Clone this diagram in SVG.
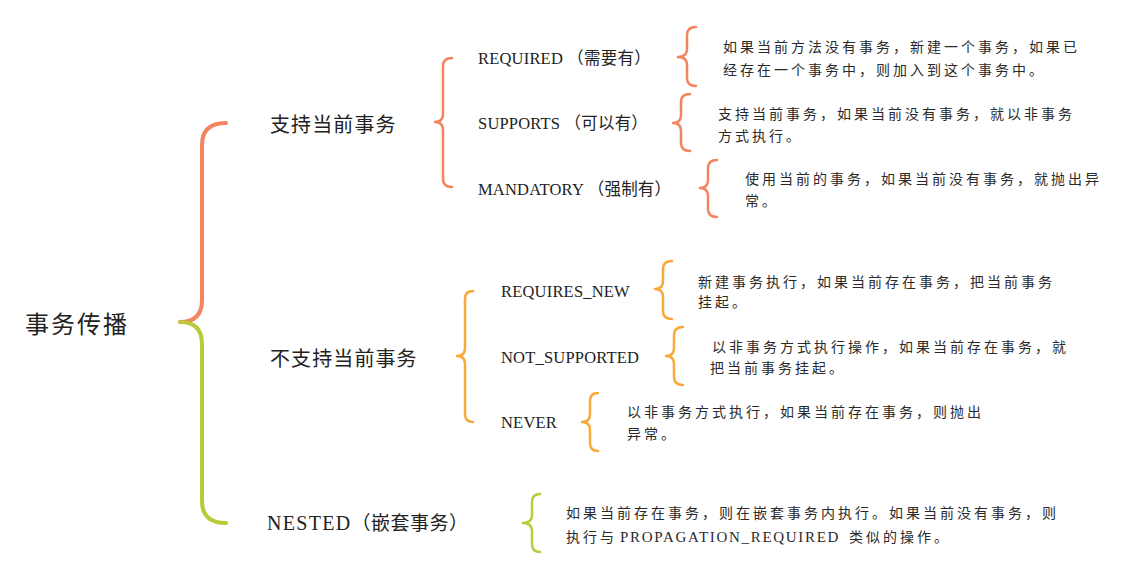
<svg xmlns="http://www.w3.org/2000/svg" width="1129" height="585" viewBox="0 0 1129 585">
<style>
  text { font-family: "Liberation Serif", "Noto Sans CJK SC", serif; fill: #222; }
  .root { font-size: 24px; letter-spacing: 2px; }
  .l1 { font-size: 20px; letter-spacing: 1.1px; }
  .l2 { font-size: 16.5px; letter-spacing: 0.2px; }
  .desc { font-size: 14px; letter-spacing: 3px; fill: #2a2a2a; }
  .br { fill: none; stroke-linecap: round; stroke-linejoin: round; }
  .or { stroke: #F4845F; }
  .am { stroke: #F9A83A; }
  .gr { stroke: #B9CA3A; }
  .w4 { stroke-width: 4; }
  .w2 { stroke-width: 2.5; }
</style>
<rect width="1129" height="585" fill="#ffffff"/>
<g id="connectors">
  <path class="br or w4" d="M226,123 Q202,123 202,145 L202,300 Q202,322 180,322"/>
  <path class="br gr w4" d="M180,322 Q202,322 202,344 L202,501 Q202,523 226,523"/>
  <path class="br or w2" d="M452,58 Q443,58 443,66 L443,114 Q443,122 435,122 Q443,122 443,130 L443,179 Q443,187 452,187"/>
  <path class="br am w2" d="M473,291 Q465,291 465,299 L465,348 Q465,356 457,356 Q465,356 465,364 L465,414 Q465,422 473,422"/>
  <path class="br or w2" d="M696,27 Q687,27 687,35 L687,49 Q687,57 678,57 Q687,57 687,65 L687,78 Q687,86 696,86"/>
  <path class="br or w2" d="M690,94 Q681,94 681,102 L681,115 Q681,123 673,123 Q681,123 681,131 L681,143 Q681,151 690,151"/>
  <path class="br or w2" d="M717,160 Q708,160 708,168 L708,180 Q708,188 700,188 Q708,188 708,196 L708,209 Q708,217 717,217"/>
  <path class="br am w2" d="M672,261 Q663,261 663,269 L663,281 Q663,289 655,289 Q663,289 663,297 L663,311 Q663,319 672,319"/>
  <path class="br am w2" d="M683,327 Q674,327 674,335 L674,348 Q674,356 666,356 Q674,356 674,364 L674,377 Q674,385 683,385"/>
  <path class="br am w2" d="M598,393 Q590,393 590,401 L590,414 Q590,422 582,422 Q590,422 590,430 L590,443 Q590,451 598,451"/>
  <path class="br gr w2" d="M540,494 Q532,494 532,502 L532,515 Q532,523 523,523 Q532,523 532,531 L532,544 Q532,552 540,552"/>
</g>
<g id="root"><text class="root" x="25" y="333">事务传播</text></g>
<g id="support"><text class="l1" x="270" y="132">支持当前事务</text></g>
<g id="not-support"><text class="l1" x="270" y="366">不支持当前事务</text></g>
<g id="nested"><text class="l1" x="267" y="530"><tspan letter-spacing="1.3">NESTED</tspan><tspan font-size="19" letter-spacing="0.5">（嵌套事务）</tspan></text></g>
<g id="required"><text class="l2" x="478" y="64">REQUIRED （需要有）</text></g>
<g id="supports"><text class="l2" x="478" y="129">SUPPORTS （可以有）</text></g>
<g id="mandatory"><text class="l2" x="478" y="195">MANDATORY （强制有）</text></g>
<g id="requires-new"><text class="l2" x="501" y="297">REQUIRES_NEW</text></g>
<g id="not-supported"><text class="l2" x="501" y="363">NOT_SUPPORTED</text></g>
<g id="never"><text class="l2" x="501" y="428">NEVER</text></g>
<g id="required-desc"><text class="desc" x="723" y="52">如果当前方法没有事务，新建一个事务，如果已</text><text class="desc" x="723" y="75">经存在一个事务中，则加入到这个事务中。</text></g>
<g id="supports-desc"><text class="desc" x="718" y="119">支持当前事务，如果当前没有事务，就以非事务</text><text class="desc" x="718" y="141">方式执行。</text></g>
<g id="mandatory-desc"><text class="desc" x="745" y="184">使用当前的事务，如果当前没有事务，就抛出异</text><text class="desc" x="745" y="206">常。</text></g>
<g id="requires-new-desc"><text class="desc" x="698" y="287">新建事务执行，如果当前存在事务，把当前事务</text><text class="desc" x="698" y="307">挂起。</text></g>
<g id="not-supported-desc"><text class="desc" x="712" y="352">以非事务方式执行操作，如果当前存在事务，就</text><text class="desc" x="710" y="373">把当前事务挂起。</text></g>
<g id="never-desc"><text class="desc" x="627" y="417">以非事务方式执行，如果当前存在事务，则抛出</text><text class="desc" x="627" y="439">异常。</text></g>
<g id="nested-desc"><text class="desc" x="566" y="518">如果当前存在事务，则在嵌套事务内执行。如果当前没有事务，则</text><text class="desc" x="566" y="542">执行与<tspan x="620" font-size="15" letter-spacing="1.7">PROPAGATION_REQUIRED</tspan><tspan x="849">类似的操作。</tspan></text></g>
</svg>
